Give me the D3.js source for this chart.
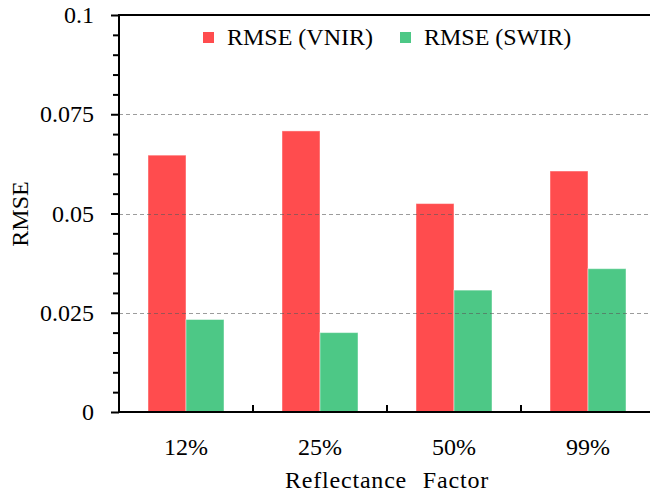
<!DOCTYPE html>
<html><head><meta charset="utf-8">
<script src="https://cdn.jsdelivr.net/npm/d3@7"></script>
<style>
html,body{margin:0;padding:0;background:#fff;}
svg{display:block;}
</style></head>
<body>
<svg id="c" width="650" height="493"></svg>
<script>
const categories = ["12%", "25%", "50%", "99%"];
const seriesNames = ["RMSE (VNIR)", "RMSE (SWIR)"];
const vnir = [0.0647, 0.0708, 0.0525, 0.0607];
const swir = [0.0233, 0.0200, 0.0307, 0.0361];
const yMajorTicks = [0, 0.025, 0.05, 0.075, 0.1];
const yTickLabels = ["0", "0.025", "0.05", "0.075", "0.1"];
const colors = ["#FF4C4E", "#4DC886"];

(function () {
const FONT = "'Liberation Serif', 'Times New Roman', Times, 'DejaVu Serif', serif";
const svg = d3.select("#c").style("font-family", FONT);
const mLeft = 119, mTop = 15, mBottom = 412, bandW = 134;

const x = d3.scaleBand().domain(categories).range([mLeft, mLeft + bandW * categories.length]).padding(0);
const xs = d3.scaleBand().domain(seriesNames).range([29, 105]).padding(0);
const y = d3.scaleLinear().domain([0, 0.1]).range([mBottom, mTop]);

const data = categories.map((c, i) => ({cat: c, vals: [vnir[i], swir[i]]}));

// bars
const g = svg.append("g");
data.forEach(d => {
  d.vals.forEach((v, j) => {
    g.append("rect")
      .attr("x", x(d.cat) + xs(seriesNames[j]))
      .attr("y", y(v))
      .attr("width", xs.bandwidth())
      .attr("height", y(0) - y(v))
      .attr("fill", colors[j])
      .attr("stroke", "rgba(255,255,255,0.45)")
      .attr("stroke-width", 1);
  });
});

// gridlines (over bars)
svg.append("g").selectAll("line")
  .data(yMajorTicks.filter(t => t > 0 && t < 0.1))
  .join("line")
  .attr("x1", mLeft).attr("x2", 650)
  .attr("y1", d => Math.round(y(d)) + 0.5).attr("y2", d => Math.round(y(d)) + 0.5)
  .attr("stroke", "rgba(90,90,90,0.6)")
  .attr("stroke-width", 1)
  .attr("stroke-dasharray", "4,3");

// minor y ticks
const minor = d3.range(0, 0.1001, 0.005).filter(t => yMajorTicks.every(m => Math.abs(m - t) > 1e-6));
svg.append("g").attr("transform", `translate(${mLeft},0)`)
  .call(d3.axisLeft(y).tickValues(minor).tickSize(6).tickFormat(""))
  .call(s => s.select(".domain").remove())
  .call(s => s.selectAll("line").attr("stroke", "#000").attr("stroke-width", 2));

// major y ticks
svg.append("g").attr("transform", `translate(${mLeft},0)`)
  .call(d3.axisLeft(y).tickValues(yMajorTicks).tickSize(8).tickPadding(17)
        .tickFormat((d, i) => yTickLabels[i]))
  .attr("font-family", null).attr("font-size", null)
  .call(s => s.select(".domain").remove())
  .call(s => s.selectAll("line").attr("stroke", "#000").attr("stroke-width", 2))
  .call(s => s.selectAll("text").style("font-size", "24px").attr("fill", "#000").style("font-family", FONT));

// x tick labels
svg.append("g").attr("transform", `translate(0,${mBottom})`)
  .call(d3.axisBottom(x).tickSize(0).tickPadding(26))
  .attr("font-family", null).attr("font-size", null)
  .call(s => s.select(".domain").remove())
  .call(s => s.selectAll("text").style("font-size", "24px").attr("fill", "#000").style("font-family", FONT));

// inward x ticks at band boundaries
svg.append("g").selectAll("line")
  .data(categories.slice(1))
  .join("line")
  .attr("x1", d => x(d)).attr("x2", d => x(d))
  .attr("y1", mBottom).attr("y2", mBottom - 7)
  .attr("stroke", "#000").attr("stroke-width", 2);

// frame lines
svg.append("line").attr("x1", mLeft).attr("x2", mLeft).attr("y1", mTop - 1).attr("y2", mBottom + 1)
  .attr("stroke", "#000").attr("stroke-width", 2);
svg.append("line").attr("x1", mLeft - 1).attr("x2", 650).attr("y1", mBottom).attr("y2", mBottom)
  .attr("stroke", "#000").attr("stroke-width", 2);
svg.append("line").attr("x1", mLeft - 1).attr("x2", 650).attr("y1", mTop).attr("y2", mTop)
  .attr("stroke", "#000").attr("stroke-width", 2);

// axis titles
svg.append("text").attr("x", 387).attr("y", 488).attr("text-anchor", "middle")
  .style("font-size", "24px").style("font-family", FONT)
  .style("letter-spacing", "0.8px").style("word-spacing", "9px").text("Reflectance Factor");
svg.append("text").attr("transform", "translate(28,214) rotate(-90)").attr("text-anchor", "middle")
  .style("font-size", "24px").style("font-family", FONT).text("RMSE");

// legend
const legX = [203, 400];
seriesNames.forEach((n, j) => {
  svg.append("rect").attr("x", legX[j]).attr("y", 32).attr("width", 11).attr("height", 11).attr("fill", colors[j]);
  svg.append("text").attr("x", legX[j] + 24).attr("y", 45)
    .style("font-size", "24px").style("font-family", FONT).text(n);
});
})();
</script>
</body></html>
